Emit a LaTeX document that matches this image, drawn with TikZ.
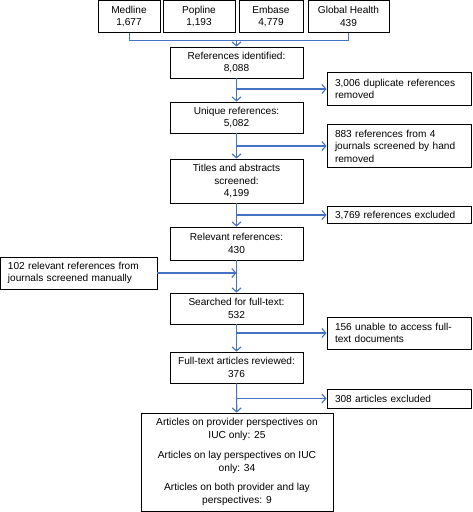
\documentclass[tikz,border=0pt]{standalone}
\usepackage{fontspec}
\setmainfont{Liberation Sans}
\usetikzlibrary{arrows.meta}
\definecolor{linkblue}{RGB}{68,114,196}
\newcommand\diagfont{\fontsize{10.1}{12.5}\selectfont}
\tikzset{
  box/.style={draw=black, line width=0.8pt, fill=white, inner sep=0pt, align=center, font=\diagfont},
  mainbox/.style={box, minimum width=133pt},
  topbox/.style={box, minimum height=32pt},
  sidebox/.style={box, minimum width=144pt, text width=128pt, align=left},
  arr/.style={draw=linkblue, line width=1.1pt, -{Straight Barb[length=4pt,width=9pt]}},
  brk/.style={draw=linkblue, line width=0.9pt}
}
\begin{document}
\begin{tikzpicture}[x=1pt,y=-1pt]
\useasboundingbox (0,0) rectangle (473,512);
% top sources
\node[topbox, minimum width=62pt] (med) at (129,16.5) {Medline\\1,677};
\node[topbox, minimum width=72pt] (pop) at (199,16.5) {Popline\\1,193};
\node[topbox, minimum width=64pt] (emb) at (271,16.5) {Embase\\4,779};
\node[topbox, minimum width=81pt] (gh)  at (348.5,16.5) {Global Health\\439};
% main column
\node[mainbox, minimum height=31pt] (refid) at (236.5,62.5) {References identified:\\8,088};
\node[mainbox, minimum height=31pt] (uniq) at (236.5,117.5) {Unique references:\\5,082};
\node[mainbox, minimum height=44pt] (titles) at (236.5,181) {Titles and abstracts\\screened:\\4,199};
\node[mainbox, minimum height=33pt] (relev) at (236.5,243.5) {Relevant references:\\430};
\node[mainbox, minimum height=31pt] (search) at (236.5,308.5) {Searched for full-text:\\532};
\node[mainbox, minimum height=31pt] (full) at (236.5,367.5) {Full-text articles reviewed:\\376};
\node[box, minimum width=192pt, minimum height=98pt, font=\fontsize{10.2}{13}\selectfont] (final) at (237,462)
  {Articles on provider perspectives on\\IUC only: 25\\[6.5pt]Articles on lay perspectives on IUC\\only: 34\\[6.5pt]Articles on both provider and lay\\perspectives: 9};
% side boxes
\node[sidebox, minimum height=33pt] (dup) at (399,89) {3,006 duplicate references\\removed};
\node[sidebox, minimum height=43pt] (hand) at (399,146) {883 references from 4\\journals screened by hand\\removed};
\node[sidebox, minimum height=17pt] (excl1) at (399,215) {3,769 references excluded};
\node[box, minimum width=157pt, minimum height=32pt, text width=141pt, align=left] (manual) at (78.5,273) {102 relevant references from\\journals screened manually};
\node[sidebox, minimum height=32pt] (unable) at (399,333) {156 unable to access full-\\text documents};
\node[sidebox, minimum height=19pt] (excl2) at (399,398.5) {308 articles excluded};
% bracket
\coordinate (bj) at (refid.north |- 0,40);
\draw[brk] (med.south) -- (med.south |- bj) -- (gh.south |- bj) -- (gh.south);
\draw[arr] (bj) -- (refid.north);
% vertical flow
\draw[arr] (refid) -- (uniq);
\draw[arr] (uniq) -- (titles);
\draw[arr] (titles) -- (relev);
\draw[arr] (relev) -- (search);
\draw[arr] (search) -- (full);
\draw[arr] (full) -- (final);
% branches
\draw[arr] (refid.south |- dup.west) -- (dup.west);
\draw[arr] (uniq.south |- hand.west) -- (hand.west);
\draw[arr] (titles.south |- excl1.west) -- (excl1.west);
\draw[arr] (manual.east) -- (relev.south |- manual.east);
\draw[arr] (search.south |- unable.west) -- (unable.west);
\draw[arr] (full.south |- excl2.west) -- (excl2.west);
\end{tikzpicture}
\end{document}
